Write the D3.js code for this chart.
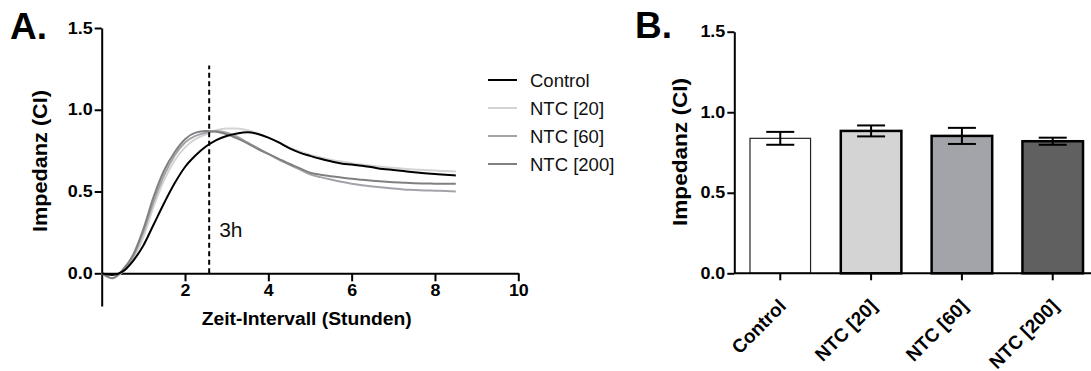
<!DOCTYPE html>
<html><head><meta charset="utf-8">
<script src="https://cdn.jsdelivr.net/npm/d3@7"></script>
<style>
html,body{margin:0;padding:0;background:#fff;}
svg{display:block;font-family:"Liberation Sans",Arial,sans-serif;}
</style></head>
<body>
<svg id="chart" width="1091" height="371"></svg>
<script>
// ---- Panel A data (time in hours, impedance CI) ----
const timeHours = [0,0.25,0.5,0.75,1,1.25,1.5,1.75,2,2.25,2.5,2.75,3,3.25,3.5,3.75,4,4.25,4.5,4.75,5,5.25,5.5,5.75,6,6.25,6.5,6.75,7,7.25,7.5,7.75,8,8.25,8.5];
const seriesNames = ["Control","NTC [20]","NTC [60]","NTC [200]"];
const controlCI = [0,-0.01,0.01,0.075,0.17,0.30,0.43,0.55,0.65,0.72,0.775,0.815,0.84,0.855,0.862,0.852,0.83,0.80,0.765,0.738,0.718,0.70,0.685,0.672,0.665,0.658,0.648,0.638,0.632,0.625,0.618,0.612,0.607,0.602,0.598];
const ntc20CI = [0,-0.03,0.01,0.09,0.22,0.41,0.57,0.69,0.77,0.82,0.85,0.875,0.885,0.885,0.875,0.855,0.83,0.80,0.77,0.745,0.725,0.708,0.695,0.683,0.673,0.665,0.657,0.65,0.645,0.64,0.635,0.632,0.628,0.625,0.622];
const ntc60CI = [0,-0.03,0.015,0.10,0.25,0.44,0.60,0.72,0.80,0.84,0.86,0.87,0.86,0.835,0.80,0.765,0.73,0.695,0.665,0.635,0.605,0.588,0.573,0.56,0.548,0.539,0.531,0.524,0.518,0.513,0.51,0.507,0.505,0.503,0.50];
const ntc200CI = [0,-0.03,0.02,0.11,0.27,0.47,0.63,0.74,0.82,0.86,0.87,0.865,0.85,0.825,0.795,0.76,0.73,0.70,0.67,0.643,0.615,0.603,0.594,0.586,0.578,0.572,0.566,0.561,0.557,0.554,0.551,0.549,0.548,0.547,0.547];
const lineColors = ["#000000","#d4d4d4","#a2a4aa","#808080"];
const markerTime = 2.58;
const xTicksA = [2,4,6,8,10];
const yTicks = [0,0.5,1.0,1.5];

// ---- Panel B data ----
const barCategories = ["Control","NTC [20]","NTC [60]","NTC [200]"];
const barMeans = [0.838,0.884,0.853,0.820];
const barErrors = [0.040,0.034,0.050,0.022];
const barFills = ["#ffffff","#d4d4d4","#a2a4aa","#606060"];

const svg = d3.select("#chart");
const bold = 700;

function styleAxis(a, fs, stretch){
  a.select(".domain").attr("stroke","#000").attr("stroke-width",2);
  a.selectAll(".tick line").attr("stroke","#000").attr("stroke-width",2);
  a.selectAll(".tick text").attr("fill","#000").attr("font-size",fs).attr("font-weight",bold)
   .attr("font-family","Liberation Sans, Arial, sans-serif")
   .each(function(){
     if (stretch !== 1) {
       const L = this.getComputedTextLength();
       d3.select(this).attr("textLength", L*stretch).attr("lengthAdjust","spacingAndGlyphs");
     }
   });
}

// ================= PANEL A =================
const xA = d3.scaleLinear().domain([0,10]).range([101.7,518.3]);
const yA = d3.scaleLinear().domain([-0.2,1.5]).range([306,28]);

const gA = svg.append("g");
const yAxA = gA.append("g").attr("transform","translate(101.7,0)")
  .call(d3.axisLeft(yA).tickValues(yTicks).tickFormat(d3.format(".1f")).tickSize(7).tickSizeOuter(0).tickPadding(2));
const xAxA = gA.append("g").attr("transform",`translate(0,${yA(0)})`)
  .call(d3.axisBottom(xA).tickValues(xTicksA).tickFormat(d3.format("d")).tickSize(8).tickSizeOuter(0).tickPadding(3));
styleAxis(yAxA, 16, 1.12);
styleAxis(xAxA, 17, 1.05);

// lines
const allSeries = [controlCI, ntc20CI, ntc60CI, ntc200CI];
const lineGen = d3.line().x((d,i)=>xA(timeHours[i])).y(d=>yA(d)).curve(d3.curveMonotoneX);
[1,2,3,0].forEach(k=>{
  gA.append("path").datum(allSeries[k]).attr("d",lineGen)
    .attr("fill","none").attr("stroke",lineColors[k]).attr("stroke-width",2);
});

// dashed marker
gA.append("line").attr("x1",xA(markerTime)).attr("x2",xA(markerTime))
  .attr("y1",yA(0)).attr("y2",yA(1.27))
  .attr("stroke","#000").attr("stroke-width",2).attr("stroke-dasharray","5,3.5");
gA.append("text").attr("x",xA(markerTime)+10).attr("y",236.5)
  .attr("font-size",21).attr("fill","#111").text("3h");

// axis titles
gA.append("text").attr("transform","translate(47,161) rotate(-90)")
  .attr("text-anchor","middle").attr("font-size",20).attr("font-weight",bold)
  .attr("textLength",142).attr("lengthAdjust","spacingAndGlyphs").text("Impedanz (CI)");
gA.append("text").attr("x",306.7).attr("y",325).attr("text-anchor","middle")
  .attr("font-size",17.5).attr("font-weight",bold)
  .attr("textLength",210).attr("lengthAdjust","spacingAndGlyphs").text("Zeit-Intervall (Stunden)");

// legend
const legY = [80,108,136,164];
seriesNames.forEach((n,i)=>{
  gA.append("line").attr("x1",488).attr("x2",517).attr("y1",legY[i]).attr("y2",legY[i])
    .attr("stroke",lineColors[i]).attr("stroke-width",2);
  gA.append("text").attr("x",530).attr("y",legY[i]+6.5).attr("font-size",18.5)
    .attr("fill","#111").text(n);
});

svg.append("text").attr("x",10).attr("y",38.5).attr("font-size",37).attr("font-weight",bold).text("A.");

// ================= PANEL B =================
const xB = d3.scaleBand().domain(barCategories).range([734,1099]).paddingInner(0.333).paddingOuter(0.176);
const yB = d3.scaleLinear().domain([0,1.5]).range([273.3,31.7]);
const gB = svg.append("g");

gB.selectAll("rect.bar").data(barMeans).enter().append("rect")
  .attr("x",(d,i)=>xB(barCategories[i])).attr("width",xB.bandwidth())
  .attr("y",d=>yB(d)).attr("height",d=>yB(0)-yB(d))
  .attr("fill",(d,i)=>barFills[i])
  .attr("stroke",(d,i)=>i===0?"#222":"#000")
  .attr("stroke-width",(d,i)=>i===0?1.2:2.5);

const capW = 28;
barMeans.forEach((m,i)=>{
  const cx = xB(barCategories[i]) + xB.bandwidth()/2;
  const lo = yB(m - barErrors[i]), hi = yB(m + barErrors[i]);
  gB.append("line").attr("x1",cx).attr("x2",cx).attr("y1",lo).attr("y2",hi).attr("stroke","#000").attr("stroke-width",2);
  [lo,hi].forEach(yy=>gB.append("line").attr("x1",cx-capW/2).attr("x2",cx+capW/2).attr("y1",yy).attr("y2",yy)
    .attr("stroke","#000").attr("stroke-width",2));
});

const yAxB = gB.append("g").attr("transform","translate(734.3,0)")
  .call(d3.axisLeft(yB).tickValues(yTicks).tickFormat(d3.format(".1f")).tickSize(7).tickSizeOuter(0).tickPadding(2));
const xAxB = gB.append("g").attr("transform",`translate(0,${yB(0)})`)
  .call(d3.axisBottom(xB).tickSize(7).tickSizeOuter(0));
styleAxis(yAxB, 16, 1.12);
styleAxis(xAxB, 19, 1);
xAxB.select(".domain").attr("d",`M734.3,0H1099`);
xAxB.selectAll(".tick text").attr("text-anchor","end").attr("dy",null).attr("y",null)
  .attr("transform","translate(7,34) rotate(-45)");

gB.append("text").attr("transform","translate(687,152) rotate(-90)")
  .attr("text-anchor","middle").attr("font-size",20).attr("font-weight",bold)
  .attr("textLength",148).attr("lengthAdjust","spacingAndGlyphs").text("Impedanz (CI)");

svg.append("text").attr("x",635).attr("y",38).attr("font-size",37).attr("font-weight",bold).text("B.");
</script>
</body></html>
